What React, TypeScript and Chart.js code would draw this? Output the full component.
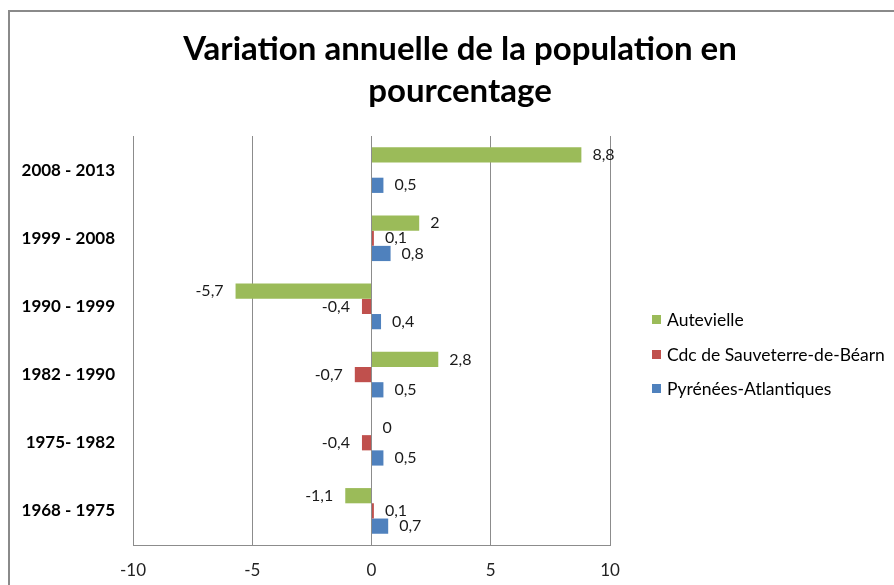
import React, { useEffect, useRef } from "react";
import { Chart, registerables } from "chart.js";

Chart.register(...registerables);

const categories = ["2008 - 2013", "1999 - 2008", "1990 - 1999", "1982 - 1990", "1975- 1982", "1968 - 1975"];
const autevielle = [8.8, 2, -5.7, 2.8, 0, -1.1];
const cdcSauveterre = [null, 0.1, -0.4, -0.7, -0.4, 0.1];
const pyreneesAtlantiques = [0.5, 0.8, 0.4, 0.5, 0.5, 0.7];
const seriesNames = ["Autevielle", "Cdc de Sauveterre-de-Béarn", "Pyrénées-Atlantiques"];
const seriesColors = ["#9BBB59", "#C0504D", "#4F81BD"];
const titleLines = ["Variation annuelle de la population en", "pourcentage"];
const xMin = -10;
const xMax = 10;
const xStep = 5;

const FONT = "Lato, 'Open Sans', sans-serif";

const fmt = (v: number) => String(v).replace(".", ",");

const decorPlugin = {
  id: "decor",
  beforeDraw(chart: any) {
    const ctx = chart.ctx;
    ctx.save();
    ctx.fillStyle = "#ffffff";
    ctx.fillRect(0, 0, chart.width, chart.height);
    ctx.strokeStyle = "#8a8a8a";
    ctx.lineWidth = 2;
    ctx.beginPath();
    ctx.moveTo(9, chart.height + 5);
    ctx.lineTo(9, 11);
    ctx.lineTo(chart.width + 5, 11);
    ctx.stroke();
    ctx.restore();
  },
  afterDraw(chart: any) {
    const ctx = chart.ctx;
    ctx.save();
    // title
    ctx.fillStyle = "#000000";
    ctx.font = `bold 33px ${FONT}`;
    ctx.textAlign = "center";
    ctx.textBaseline = "middle";
    ctx.fillText(titleLines[0], 460, 49);
    ctx.fillText(titleLines[1], 460, 91);
    // data labels
    ctx.font = `16px ${FONT}`;
    ctx.fillStyle = "#1a1a1a";
    chart.data.datasets.forEach((ds: any, di: number) => {
      const meta = chart.getDatasetMeta(di);
      meta.data.forEach((bar: any, i: number) => {
        const v = ds.data[i];
        if (v === null || v === undefined) return;
        if (v >= 0) {
          ctx.textAlign = "left";
          ctx.fillText(fmt(v), bar.x + 11, bar.y);
        } else {
          ctx.textAlign = "right";
          ctx.fillText(fmt(v), bar.x - 12, bar.y);
        }
      });
    });
    // legend
    ctx.font = `17.5px ${FONT}`;
    ctx.textAlign = "left";
    const ly = [320, 355, 389];
    seriesNames.forEach((name, i) => {
      ctx.fillStyle = seriesColors[i];
      ctx.fillRect(652, ly[i] - 5, 9, 9);
      ctx.fillStyle = "#000000";
      ctx.fillText(name, 667, ly[i]);
    });
    ctx.restore();
  },
};

export default function App() {
  const ref = useRef<HTMLCanvasElement>(null);
  useEffect(() => {
    if (!ref.current) return;
    const chart = new Chart(ref.current, {
      type: "bar",
      data: {
        labels: categories,
        datasets: [
          { label: seriesNames[0], data: autevielle, backgroundColor: seriesColors[0] },
          { label: seriesNames[1], data: cdcSauveterre as any, backgroundColor: seriesColors[1] },
          { label: seriesNames[2], data: pyreneesAtlantiques, backgroundColor: seriesColors[2] },
        ],
      },
      options: {
        indexAxis: "y",
        responsive: false,
        animation: false,
        layout: { padding: { left: 0, right: 284, top: 136, bottom: 0 } },
        datasets: { bar: { categoryPercentage: 0.67, barPercentage: 1 } },
        plugins: { legend: { display: false }, title: { display: false }, tooltip: { enabled: false } },
        scales: {
          x: {
            min: xMin,
            max: xMax,
            ticks: { stepSize: xStep, color: "#222", font: { family: FONT, size: 17 }, padding: 15 },
            grid: { color: "#8c8c8c", drawTicks: false, lineWidth: 1 },
            border: { color: "#8c8c8c", width: 1 },
            afterFit: (s: any) => { s.height = 40; },
          },
          y: {
            ticks: { color: "#000", font: { family: FONT, size: 17, weight: "bold" }, padding: 18 },
            grid: { display: false, drawTicks: false },
            border: { display: false },
            afterFit: (s: any) => { s.width = 133; },
          },
        },
      },
      plugins: [decorPlugin],
    });
    return () => chart.destroy();
  }, []);
  return (
    <div style={{ position: "absolute", left: 0, top: 0, width: 894, height: 585 }}>
      <canvas ref={ref} width={894} height={585} style={{ display: "block" }} />
    </div>
  );
}
